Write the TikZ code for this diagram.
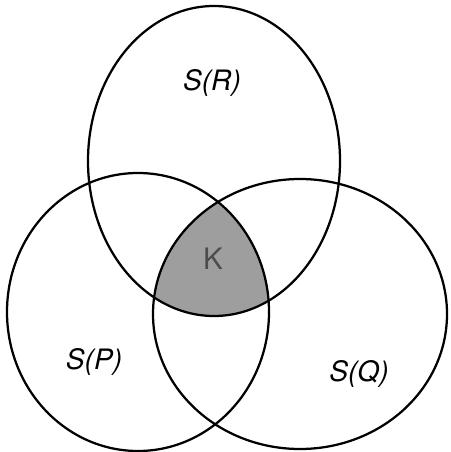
\documentclass[tikz,border=0pt]{standalone}
\usepackage{fontspec}
\setmainfont{TeX Gyre Heros}

\begin{document}
\begin{tikzpicture}[x=0.025cm,y=-0.025cm,line width=1.6pt,
  setlabel/.style={font=\fontsize{20}{24}\selectfont\itshape},
  corelabel/.style={font=\fontsize{21}{24}\selectfont,text=black!70}]
\useasboundingbox (0,0) rectangle (450,452);
% ---------- shaded core ----------
\begin{scope}
\clip (138,312) ellipse [x radius=131, y radius=139];
\clip (300,314) ellipse [x radius=147, y radius=135];
\fill[black!38] (214,161) ellipse [x radius=126, y radius=155];
\end{scope}
% ---------- the three sets ----------
\draw (214,161) ellipse [x radius=126, y radius=155];
\draw (138,312) ellipse [x radius=131, y radius=139];
\draw (300,314) ellipse [x radius=147, y radius=135];
% labels
\node[setlabel] (sr) at (212,83) {S(R)};
\node[setlabel] (sp) at (94,362) {S(P)};
\node[setlabel] (sq) at (359,374) {S(Q)};
\node[corelabel] (k) at (213,259) {K};
\end{tikzpicture}
\end{document}
